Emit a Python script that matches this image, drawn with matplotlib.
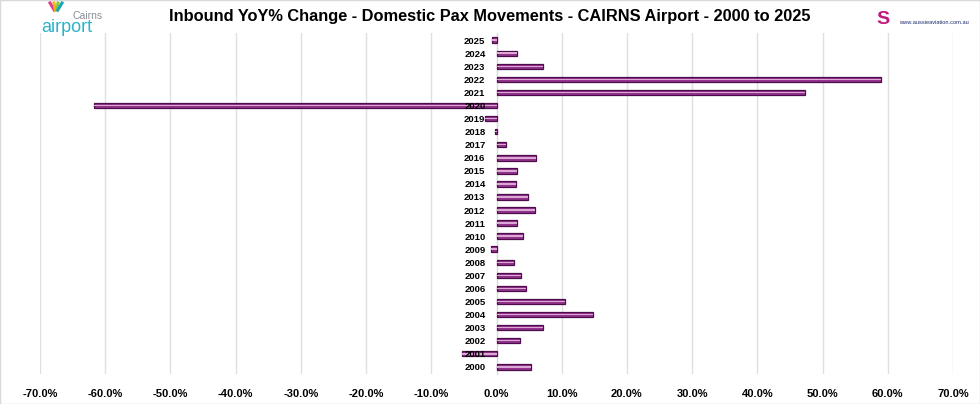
import numpy as np
import matplotlib.pyplot as plt
from matplotlib.patches import Rectangle

years = [str(y) for y in range(2000, 2026)]
yoy_pct = [5.3, -5.3, 3.6, 7.1, 14.8, 10.5, 4.5, 3.7, 2.7, -0.8,
           4.0, 3.2, 5.9, 4.9, 3.0, 3.2, 6.0, 1.5, -0.25, -1.8,
           -61.7, 47.3, 58.9, 7.1, 3.2, -0.7]
xticks = list(range(-70, 71, 10))
title = 'Inbound YoY% Change - Domestic Pax Movements - CAIRNS Airport - 2000 to 2025'

plt.rcParams['font.family'] = ['Liberation Sans', 'DejaVu Sans']

fig = plt.figure(figsize=(9.8, 4.04), dpi=100)
ax = fig.add_axes([40 / 980, 1 - 374 / 404, (953 - 40) / 980, (374 - 33) / 404])

# move the value axis to 0 first (this resets the tick labels)
ax.spines['left'].set_position(('data', 0))
ax.spines['left'].set_color('#d9d9d9')
ax.spines['left'].set_zorder(0.8)
for s in ['top', 'right', 'bottom']:
    ax.spines[s].set_visible(False)

ypos = np.arange(len(years))
# bar body, then a lighter sheen through the middle
ax.barh(ypos, yoy_pct, height=0.42, color='#93348b', edgecolor='#4f0c4c', linewidth=0.9, zorder=1)
ax.barh(ypos, yoy_pct, height=0.12, color='#dba7d5', linewidth=0, zorder=1.1)

ax.set_xlim(-70, 70)
ax.set_ylim(-0.55, 25.55)
ax.set_xticks(xticks)
ax.set_xticklabels([f'{v:.1f}%' for v in xticks], fontsize=8, fontweight='bold')
ax.set_yticks(ypos)
ax.set_yticklabels(years, fontsize=6.8, fontweight='bold')
ax.tick_params(axis='both', length=0)
ax.tick_params(axis='x', pad=11)
ax.tick_params(axis='y', pad=8)

ax.grid(axis='x', color='#e0e0e0', linewidth=1)
ax.set_axisbelow(True)
ax.yaxis.set_zorder(5)  # year labels sit on top of the bars

fig.text(0.5, 1 - 17 / 404, title, ha='center', va='center', fontsize=11.8, fontweight='bold')

# logos as text
fig.text(72 / 980, 1 - 16 / 404, 'Cairns', fontsize=7.5, color='#8a8f96', va='center')
fig.text(41 / 980, 1 - 28 / 404, 'airport', fontsize=13, color='#2bb3c8', va='center')
for dx, c in zip([-6, -2, 2, 6], ['#e53b8c', '#f6b21b', '#8dc63f', '#1aa5b8']):
    fig.add_artist(plt.Line2D([(56 + dx * 0.3) / 980, (56 + dx) / 980], [1 - 10 / 404, 1 - 3 / 404],
                              color=c, linewidth=2.2))
fig.text(899 / 980, 1 - 22 / 404, 'www.aussieaviation.com.au', fontsize=4.1, color='#1c2a6b',
         va='center')
fig.text(889 / 980, 1 - 19 / 404, 'S', fontsize=14, fontweight='bold', color='#c2187a',
         ha='right', va='center')

fig.add_artist(Rectangle((0, 0), 1, 1, transform=fig.transFigure, fill=False,
                         edgecolor='#d9d9d9', linewidth=1))

fig.savefig('out.png', dpi=100)
